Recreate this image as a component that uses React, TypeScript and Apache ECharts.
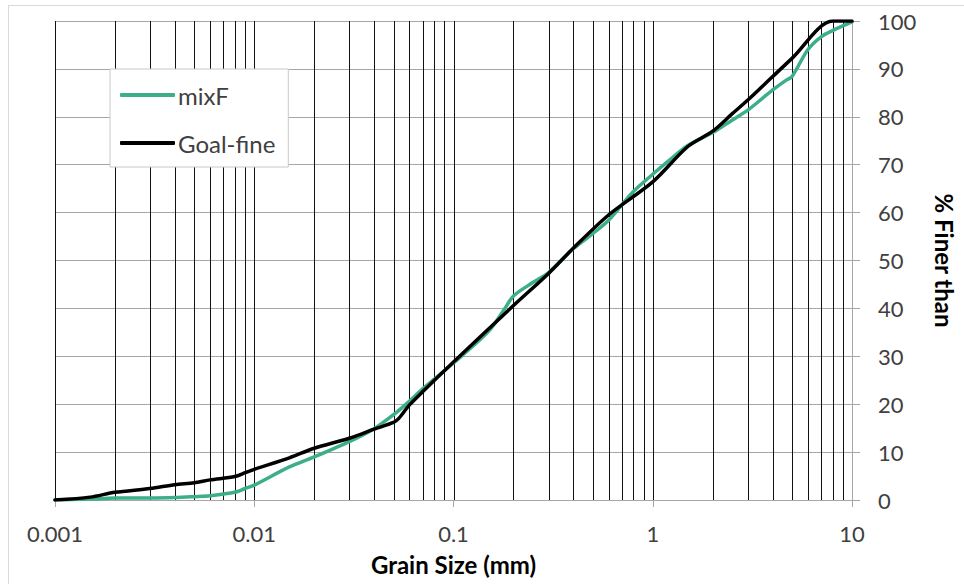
import React, { useEffect, useRef } from "react";
import * as echarts from "echarts";

const goalSizes = [0.001, 0.0015, 0.002, 0.003, 0.004, 0.005, 0.006, 0.008, 0.009, 0.01, 0.015, 0.02, 0.03, 0.04, 0.05, 0.053, 0.06, 0.07, 0.1, 0.2, 0.3, 0.4, 0.6, 1, 1.5, 2, 2.5, 3, 4, 5, 8, 10];
const goalFiner = [0, 0.6, 1.6, 2.4, 3.2, 3.6, 4.2, 4.9, 5.7, 6.4, 8.8, 10.8, 12.9, 14.8, 16.2, 17.0, 19.8, 22.6, 28.8, 40.6, 47.3, 52.6, 59.5, 66.4, 73.8, 77.0, 80.6, 83.5, 88.4, 92.2, 100, 100];

const mixSizes = [0.001, 0.0015, 0.002, 0.003, 0.004, 0.005, 0.006, 0.008, 0.009, 0.01, 0.015, 0.02, 0.03, 0.04, 0.05, 0.06, 0.07, 0.1, 0.15, 0.18, 0.2, 0.25, 0.3, 0.4, 0.5, 0.6, 0.8, 1, 1.2, 1.5, 2, 2.5, 3, 4, 4.7, 5, 6, 7, 8, 10];
const mixFiner = [0, 0.2, 0.4, 0.4, 0.5, 0.7, 0.9, 1.6, 2.4, 3.1, 6.9, 9.0, 12.2, 14.9, 17.8, 20.6, 23.2, 28.6, 35.2, 39.8, 42.6, 45.4, 47.5, 52.5, 55.6, 58.4, 64.4, 68.0, 70.8, 74.0, 76.7, 79.3, 81.4, 85.6, 87.7, 88.4, 94.0, 96.7, 98.0, 99.8];

const seriesNames = ["mixF", "Goal-fine"];
const xTickValues = [0.001, 0.01, 0.1, 1, 10];
const yTickStep = 10;
const decadeStarts = [0.001, 0.01, 0.1, 1];
const multipliers = [1, 2, 3, 4, 5, 6, 7, 8, 9];

const FONT = "Lato, 'Open Sans', sans-serif";

export default function App() {
  const ref = useRef<HTMLDivElement>(null);
  useEffect(() => {
    document.body.style.margin = "0";
    document.documentElement.style.overflow = "hidden";
    const chart = echarts.init(ref.current!, undefined, { renderer: "svg", width: 964, height: 584 });
    const gridValues: number[][] = [];
    decadeStarts.forEach((d) => multipliers.forEach((m) => gridValues.push([+(d * m).toPrecision(3)])));

    chart.setOption({
      animation: false,
      backgroundColor: "#ffffff",
      textStyle: { fontFamily: FONT },
      grid: { left: 55, right: 104, top: 21, bottom: 84, containLabel: false },
      legend: {
        data: seriesNames,
        orient: "vertical",
        left: 110,
        top: 69,
        padding: [13, 13, 11, 10],
        itemGap: 22,
        itemWidth: 55,
        itemHeight: 4,
        icon: "roundRect",
        backgroundColor: "#ffffff",
        borderColor: "#c8c8c8",
        borderWidth: 1,
        borderRadius: 0,
        textStyle: { fontFamily: FONT, fontSize: 24, color: "#404040", lineHeight: 26, padding: [0, 0, 0, -2] },
      },
      xAxis: {
        type: "log",
        logBase: 10,
        min: xTickValues[0],
        max: xTickValues[xTickValues.length - 1],
        name: "Grain Size (mm)",
        nameLocation: "middle",
        nameGap: 52,
        nameTextStyle: { fontFamily: FONT, fontSize: 24, fontWeight: "bold", color: "#000" },
        axisLine: { show: true, lineStyle: { color: "#a6a6a6", width: 1 } },
        axisTick: { show: true, length: 7, inside: false, lineStyle: { color: "#a6a6a6" } },
        axisLabel: {
          margin: 22,
          fontFamily: FONT,
          fontSize: 22,
          color: "#404040",
          formatter: (v: number) => String(+Number(v).toPrecision(3)),
        },
        splitLine: { show: false },
        minorTick: { show: false },
      },
      yAxis: {
        type: "value",
        position: "right",
        min: 0,
        max: 100,
        interval: yTickStep,
        name: "% Finer than",
        nameLocation: "middle",
        nameRotate: -90,
        nameGap: 80,
        nameTextStyle: { fontFamily: FONT, fontSize: 24, fontWeight: "bold", color: "#000" },
        axisLine: { show: true, lineStyle: { color: "#a6a6a6", width: 1 } },
        axisTick: { show: true, length: 8, inside: false, lineStyle: { color: "#a6a6a6" } },
        axisLabel: { margin: 26, fontFamily: FONT, fontSize: 22, color: "#404040", align: "left" },
        splitLine: { show: true, lineStyle: { color: "#a6a6a6", width: 1 } },
      },
      graphic: [
        { type: "line", shape: { x1: 8, y1: 5.5, x2: 964, y2: 5.5 }, style: { stroke: "#d9d9d9", lineWidth: 1 }, silent: true },
        { type: "line", shape: { x1: 8.5, y1: 5, x2: 8.5, y2: 584 }, style: { stroke: "#d9d9d9", lineWidth: 1 }, silent: true },
      ],
      series: [
        {
          name: "gridlines",
          type: "custom",
          data: gridValues,
          silent: true,
          z: 1,
          renderItem: (params: any, api: any) => {
            const v = api.value(0);
            const top = api.coord([v, 100]);
            const bot = api.coord([v, 0]);
            const x = Math.round(top[0]) + 0.5;
            return {
              type: "line",
              shape: { x1: x, y1: top[1], x2: x, y2: bot[1] },
              style: { stroke: "#111111", lineWidth: 1 },
            };
          },
        },
        {
          name: "mixF",
          type: "line",
          data: mixSizes.map((s, i) => [s, mixFiner[i]]),
          symbol: "none",
          smooth: 0.3,
          lineStyle: { color: "#3dae8b", width: 3.5, cap: "round", join: "round" },
          itemStyle: { color: "#3dae8b" },
          z: 3,
        },
        {
          name: "Goal-fine",
          type: "line",
          data: goalSizes.map((s, i) => [s, goalFiner[i]]),
          symbol: "none",
          smooth: 0.3,
          lineStyle: { color: "#000000", width: 3.5, cap: "round", join: "round" },
          itemStyle: { color: "#000000" },
          z: 4,
        },
      ],
    });
    return () => chart.dispose();
  }, []);
  return <div ref={ref} style={{ position: "fixed", left: 0, top: 0, width: 964, height: 584 }} />;
}
